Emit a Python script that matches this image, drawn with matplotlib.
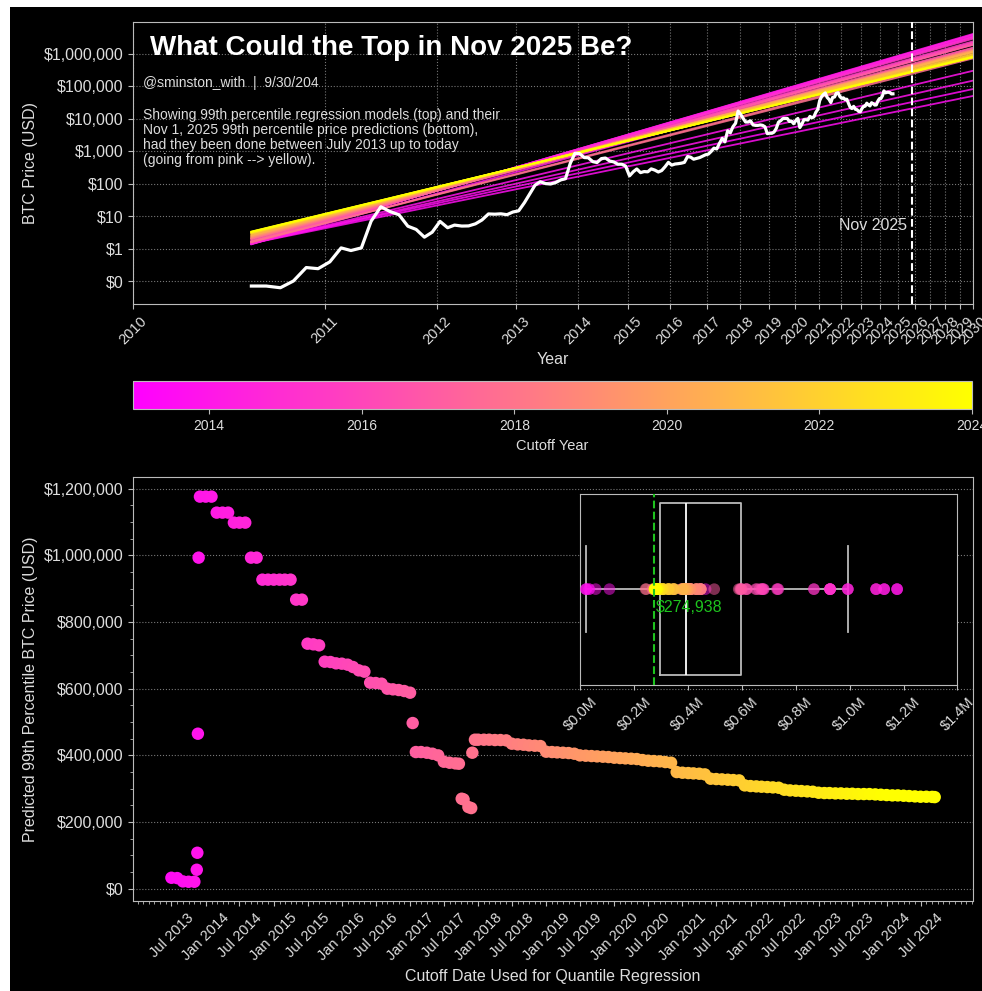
import numpy as np
import pandas as pd
import matplotlib
matplotlib.use("Agg")
import matplotlib.pyplot as plt
import matplotlib.dates as mdates
from matplotlib.ticker import FuncFormatter, AutoMinorLocator, NullLocator, FixedLocator
from matplotlib.patches import Rectangle
from matplotlib.colors import Normalize
from matplotlib.cm import ScalarMappable

plt.rcParams['font.family'] = ['Liberation Sans', 'DejaVu Sans']
TXT = '#dddddd'
EDGE = '#bbbbbb'
plt.rcParams.update({
    'text.color': TXT, 'axes.labelcolor': TXT, 'axes.edgecolor': EDGE,
    'xtick.color': EDGE, 'ytick.color': EDGE,
    'xtick.labelcolor': TXT, 'ytick.labelcolor': TXT,
})

GENESIS = pd.Timestamp("2009-01-03")
NOV_2025 = pd.Timestamp("2025-11-01")

# BTC price, mid-month close (USD), Jul 2010 .. Sep 2024
btc_close = [
    0.07, 0.07, 0.062, 0.10, 0.26, 0.24,
    0.39, 1.05, 0.87, 1.05, 7.0, 19.5, 13.9, 11.0, 4.9, 3.9, 2.25, 3.2,
    6.9, 4.4, 5.3, 4.95, 5.0, 5.8, 7.6, 11.7, 11.5, 11.8, 11.1, 13.4,
    14.6, 26, 47, 90, 115, 101, 98, 109, 131, 143, 430, 870,
    850, 640, 630, 480, 450, 595, 620, 500, 470, 400, 400, 350,
    175, 235, 285, 220, 237, 233, 287, 263, 230, 255, 335, 455,
    375, 405, 415, 430, 455, 690, 660, 570, 607, 640, 710, 780,
    820, 1000, 1250, 1180, 1750, 2500, 1950, 4300, 3700, 5700, 7300, 17500,
    13700, 10200, 8000, 8000, 8700, 6500, 6300, 6300, 6500, 6300, 5700, 3500,
    3600, 3600, 3900, 5100, 7900, 8800, 10200, 10300, 10300, 8300, 8500, 7100,
    8800, 10300, 5400, 6900, 9400, 9400, 9200, 11900, 10800, 11500, 16000, 19400,
    36800, 48600, 56000, 63000, 46000, 40100, 31800, 46000, 47100, 61500, 64000, 48900,
    43100, 44500, 39300, 40400, 29900, 22500, 20800, 24300, 19700, 19200, 16900, 16600,
    20900, 24300, 24600, 30400, 27000, 25100, 31400, 29400, 26600, 26900, 35500, 41900,
    42500, 51900, 73100, 63400, 66200, 66000, 64800, 58700, 59100,
]
price_dates = pd.date_range("2010-07-01", periods=len(btc_close), freq="MS") + pd.Timedelta(days=14)

# 99th percentile regression models: cutoff date, fitted price at first data date, Nov 2025 prediction ($k)
model_cutoff = [
    "2013-07-01", "2013-09-01", "2013-11-14", "2013-11-17", "2013-11-20", "2013-11-24",
    "2013-12-01", "2014-03-01", "2014-06-01", "2014-09-01", "2014-11-01", "2015-05-01",
    "2015-07-01", "2015-10-01", "2016-03-01", "2016-06-01", "2016-09-01", "2017-01-01",
    "2017-01-15", "2017-03-01", "2017-08-01", "2017-10-05", "2017-11-10", "2017-12-01",
    "2018-03-01", "2018-09-01", "2019-03-01", "2019-09-01", "2020-03-01", "2020-09-01",
    "2021-02-01", "2021-08-01", "2022-02-01", "2022-08-01", "2023-03-01", "2023-09-01",
    "2024-02-01", "2024-09-15",
]
model_start = [
    1.50, 1.45, 1.45, 1.45, 1.40, 1.40,
    1.35, 1.38, 1.40, 1.42, 1.45, 1.48,
    1.55, 1.60, 1.62, 1.65, 1.70, 1.72,
    1.90, 2.00, 2.00, 1.6, 1.6, 2.10,
    2.10, 2.20, 2.30, 2.40, 2.50, 2.60,
    2.80, 2.90, 3.00, 3.10, 3.20, 3.25,
    3.30, 3.35,
]
model_nov2025_k = [
    33, 21, 57, 108, 465, 993,
    1176, 1128, 1098, 993, 927, 867,
    735, 681, 665, 617, 598, 588,
    497, 410, 378, 270, 243, 408,
    447, 432, 408, 398, 391, 382,
    347, 328, 307, 295, 287, 284,
    280, 274.938,
]

# Nov 1, 2025 99th percentile prediction by cutoff date ($k)
cutoff_dates = [
    "2013-07-01", "2013-08-01", "2013-09-01", "2013-10-01", "2013-11-01",
    "2013-11-14", "2013-11-17", "2013-11-20", "2013-11-24",
    "2013-12-01", "2014-01-01", "2014-02-01", "2014-03-01", "2014-04-01", "2014-05-01",
    "2014-06-01", "2014-07-01", "2014-08-01", "2014-09-01", "2014-10-01", "2014-11-01",
    "2014-12-01", "2015-01-01", "2015-02-01", "2015-03-01", "2015-04-01", "2015-05-01",
    "2015-06-01", "2015-07-01", "2015-08-01", "2015-09-01", "2015-10-01", "2015-11-01",
    "2015-12-01", "2016-01-01", "2016-02-01", "2016-03-01", "2016-04-01", "2016-05-01",
    "2016-06-01", "2016-07-01", "2016-08-01", "2016-09-01", "2016-10-01", "2016-11-01",
    "2016-12-01", "2017-01-01", "2017-01-15", "2017-02-01", "2017-03-01", "2017-04-01",
    "2017-05-01", "2017-06-01", "2017-07-01", "2017-08-01", "2017-09-01", "2017-09-20",
    "2017-10-05", "2017-10-15", "2017-11-10", "2017-11-25", "2017-12-01", "2017-12-15",
    "2018-01-01", "2018-02-01", "2018-03-01", "2018-04-01", "2018-05-01", "2018-06-01",
    "2018-07-01", "2018-08-01", "2018-09-01", "2018-10-01", "2018-11-01", "2018-12-01",
    "2019-01-01", "2019-02-01", "2019-03-01", "2019-04-01", "2019-05-01", "2019-06-01",
    "2019-07-01", "2019-08-01", "2019-09-01", "2019-10-01", "2019-11-01", "2019-12-01",
    "2020-01-01", "2020-02-01", "2020-03-01", "2020-04-01", "2020-05-01", "2020-06-01",
    "2020-07-01", "2020-08-01", "2020-09-01", "2020-10-01", "2020-11-01", "2020-12-01",
    "2021-01-01", "2021-02-01", "2021-03-01", "2021-04-01", "2021-05-01", "2021-06-01",
    "2021-07-01", "2021-08-01", "2021-09-01", "2021-10-01", "2021-11-01", "2021-12-01",
    "2022-01-01", "2022-02-01", "2022-03-01", "2022-04-01", "2022-05-01", "2022-06-01",
    "2022-07-01", "2022-08-01", "2022-09-01", "2022-10-01", "2022-11-01", "2022-12-01",
    "2023-01-01", "2023-02-01", "2023-03-01", "2023-04-01", "2023-05-01", "2023-06-01",
    "2023-07-01", "2023-08-01", "2023-09-01", "2023-10-01", "2023-11-01", "2023-12-01",
    "2024-01-01", "2024-02-01", "2024-03-01", "2024-04-01", "2024-05-01", "2024-06-01",
    "2024-07-01", "2024-08-01", "2024-09-01", "2024-09-15",
]
pred_k = [
    33, 32, 22, 21, 21,
    57, 108, 465, 993,
    1176, 1176, 1176, 1128, 1128, 1128,
    1098, 1098, 1098, 993, 993, 927,
    927, 927, 927, 927, 927, 867,
    867, 735, 733, 730, 681, 680,
    676, 675, 672, 665, 655, 651,
    618, 617, 615, 600, 598, 596,
    593, 588, 497, 410, 410, 408,
    405, 400, 381, 378, 376, 375,
    270, 268, 245, 242, 408, 447,
    447, 447, 447, 446, 446, 445,
    435, 433, 432, 430, 429, 428,
    411, 410, 409, 408, 407, 405,
    400, 399, 398, 397, 396, 395,
    393, 392, 391, 390, 389, 386,
    384, 383, 382, 380, 378, 350,
    348, 347, 346, 345, 343, 330,
    329, 328, 327, 326, 325, 310,
    308, 307, 306, 305, 304, 303,
    297, 295, 294, 293, 292, 291,
    288, 287, 287, 286, 286, 285,
    285, 284, 284, 284, 283, 282,
    281, 280, 280, 279, 278, 277,
    276, 276, 275.5, 274.938,
]

# date ticks on the bottom chart
bottom_ticks = pd.date_range("2013-07-01", "2024-07-01", freq="6MS")


def days(d):
    return (pd.Timestamp(d) - GENESIS).days


def year_frac(d):
    d = pd.Timestamp(d)
    return d.year + (d.dayofyear - 1) / 365.25


cmap = plt.get_cmap('spring')
norm = Normalize(2013, 2024)

fig = plt.figure(figsize=(9.82, 9.91), dpi=100, facecolor='white')
fig.add_artist(Rectangle((10 / 982, 0), 1 - 10 / 982, 1 - 7 / 991, transform=fig.transFigure,
                         facecolor='black', edgecolor='none', zorder=-10))

# ---------------- top: price and regression lines ----------------
ax = fig.add_axes([0.1354, 0.6932, 0.8554, 0.2846], facecolor='black')
ax.set_xscale('log')
ax.set_yscale('log')

t0 = days(price_dates[0])
t_nov = days(NOV_2025)
t_end = days("2030-01-01")
for cut, p0, pk in zip(model_cutoff, model_start, model_nov2025_k):
    slope = (np.log10(pk * 1e3) - np.log10(p0)) / (np.log10(t_nov) - np.log10(t0))
    p_end = pk * 1e3 * (t_end / t_nov) ** slope
    ax.plot([t0, t_end], [p0, p_end], color=cmap(norm(year_frac(cut))), lw=1.3, alpha=0.85, zorder=2)

ax.plot([days(d) for d in price_dates], btc_close, color='white', lw=2.3, zorder=3)
ax.axvline(t_nov, color='white', ls='--', lw=1.5, zorder=4)
ax.text(days("2025-07-15"), 5, "Nov 2025", ha='right', va='center', fontsize=11.5, color=TXT)

years = list(range(2010, 2031))
ax.xaxis.set_major_locator(FixedLocator([days(f"{y}-01-01") for y in years]))
ax.set_xticklabels([str(y) for y in years], rotation=45, fontsize=10.5)
ax.xaxis.set_minor_locator(NullLocator())
ax.set_xlim(days("2010-01-01"), t_end)
ax.set_yticks([10.0 ** k for k in range(-1, 7)])
ax.yaxis.set_minor_locator(NullLocator())
ax.yaxis.set_major_formatter(FuncFormatter(lambda v, p: f"${v:,.0f}"))
ax.tick_params(axis='y', labelsize=11.5)
ax.set_ylim(0.0195, 9.7e6)
ax.grid(True, ls=':', color='#777777', lw=0.8)
ax.set_xlabel("Year", fontsize=11.5)
ax.set_ylabel("BTC Price (USD)", fontsize=11.5)

ax.text(0.020, 0.908, "What Could the Top in Nov 2025 Be?", transform=ax.transAxes,
        fontsize=20, fontweight='bold', color='white', va='center', ha='left')
ax.text(0.012, 0.784, "@sminston_with  |  9/30/204", transform=ax.transAxes,
        fontsize=10, va='center', ha='left')
ax.text(0.012, 0.695,
        "Showing 99th percentile regression models (top) and their\n"
        "Nov 1, 2025 99th percentile price predictions (bottom),\n"
        "had they been done between July 2013 up to today\n"
        "(going from pink --> yellow).",
        transform=ax.transAxes, fontsize=10, va='top', ha='left', linespacing=1.1)

# ---------------- colorbar ----------------
cax = fig.add_axes([0.1354, 0.587, 0.8544, 0.0287])
sm = ScalarMappable(norm=norm, cmap=cmap)
cb = fig.colorbar(sm, cax=cax, orientation='horizontal')
cb.set_ticks(list(range(2014, 2025, 2)))
cb.ax.tick_params(labelsize=10, colors=EDGE, labelcolor=TXT)
cb.set_label("Cutoff Year", fontsize=10.5, color=TXT)
cb.outline.set_edgecolor(EDGE)

# ---------------- bottom: predictions ----------------
cut_ts = pd.to_datetime(cutoff_dates)
cut_years = np.array([year_frac(d) for d in cut_ts])
pred = np.array(pred_k) * 1e3

ax2 = fig.add_axes([0.1357, 0.0908, 0.855, 0.4275], facecolor='black')
ax2.scatter(cut_ts, pred, c=cut_years, cmap=cmap, norm=norm, s=80, linewidths=0, zorder=3)
ax2.xaxis.set_major_locator(FixedLocator(mdates.date2num(bottom_ticks)))
ax2.xaxis.set_major_formatter(mdates.DateFormatter("%b %Y"))
ax2.xaxis.set_minor_locator(mdates.MonthLocator())
ax2.yaxis.set_major_formatter(FuncFormatter(lambda v, p: f"${v:,.0f}"))
ax2.yaxis.set_minor_locator(AutoMinorLocator())
plt.setp(ax2.get_xticklabels(), rotation=45, fontsize=10.5)
ax2.tick_params(axis='y', labelsize=11.5)
ax2.grid(True, axis='y', ls=':', color='#777777', lw=0.8)
ax2.set_xlabel("Cutoff Date Used for Quantile Regression", fontsize=11.5)
ax2.set_ylabel("Predicted 99th Percentile BTC Price (USD)", fontsize=11.5)

# ---------------- inset: distribution ----------------
axi = fig.add_axes([0.591, 0.309, 0.384, 0.193], facecolor='black')
axi.boxplot(pred, orientation='horizontal', positions=[0], widths=0.9, showfliers=False,
            boxprops=dict(color=EDGE, lw=1.3), whiskerprops=dict(color=EDGE, lw=1.3),
            capprops=dict(color=EDGE, lw=1.3), medianprops=dict(color='white', lw=1.3))
axi.scatter(pred, np.zeros_like(pred), c=cut_years, cmap=cmap, norm=norm, s=70,
            alpha=0.5, linewidths=0, zorder=3)
latest = pred[-1]
axi.axvline(latest, color='#1ec31e', ls='--', lw=1.5, zorder=4)
axi.text(latest + 5e3, -0.095, f"${latest:,.0f}", color='#1ec31e', fontsize=11.5,
         ha='left', va='center', zorder=5)
axi.set_xlim(0, 1.4e6)
axi.set_ylim(-0.5, 0.5)
axi.set_yticks([])
axi.xaxis.set_major_locator(FixedLocator(np.arange(0, 1.41e6, 2e5)))
axi.xaxis.set_major_formatter(FuncFormatter(lambda v, p: f"${v / 1e6:.1f}M"))
plt.setp(axi.get_xticklabels(), rotation=45, fontsize=10.5)

fig.savefig("out.png", dpi=100, facecolor=fig.get_facecolor())
